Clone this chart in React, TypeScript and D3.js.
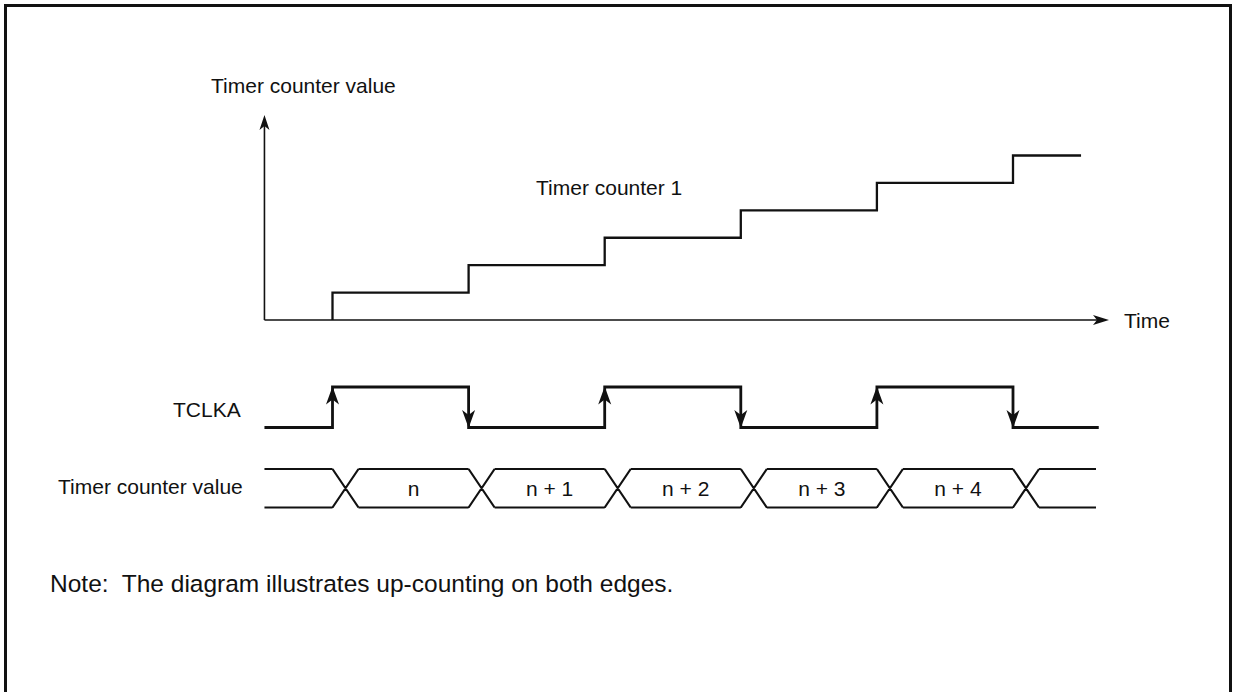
import React from "react";
import * as d3 from "d3";

// ---- data ----
const edgeTimes = [0, 1, 2, 3, 4, 5];
const counterValues = [1, 2, 3, 4, 5, 6];
const clockEdges = ["rise", "fall", "rise", "fall", "rise", "fall"];
const busLabels = ["n", "n + 1", "n + 2", "n + 3", "n + 4"];
const yAxisTitle = "Timer counter value";
const xAxisTitle = "Time";
const seriesLabel = "Timer counter 1";
const clockLabel = "TCLKA";
const busTitle = "Timer counter value";
const noteText = "Note:  The diagram illustrates up-counting on both edges.";

const W = 1233;
const H = 692;
const FONT = "'Liberation Sans', Arial, Helvetica, sans-serif";
const INK = "#111";

export default function App() {
  const x = d3.scaleLinear().domain([0, 5]).range([332.5, 1013]);
  const yC = d3.scaleLinear().domain([0, 6]).range([320, 155.5]);
  const tStart = -0.5;
  const tStepEnd = 5.5;
  const tClockEnd = 5.63;
  const tBusEnd = 5.61;
  const clkHigh = 387;
  const clkLow = 427.5;
  const busTop = 469;
  const busBot = 507.5;
  const crossW = 26;

  // step line
  const stepPts: [number, number][] = [[x(edgeTimes[0]), yC(0)]];
  edgeTimes.forEach((t, i) => {
    stepPts.push([x(t), yC(counterValues[i])]);
    const tn = i + 1 < edgeTimes.length ? edgeTimes[i + 1] : tStepEnd;
    stepPts.push([x(tn), yC(counterValues[i])]);
  });
  const line = d3.line();

  // clock
  const clkPts: [number, number][] = [[x(tStart), clkLow]];
  let level = clkLow;
  edgeTimes.forEach((t, i) => {
    clkPts.push([x(t), level]);
    level = clockEdges[i] === "rise" ? clkHigh : clkLow;
    clkPts.push([x(t), level]);
  });
  clkPts.push([x(tClockEnd), level]);

  const arrowHead = (
    tx: number,
    ty: number,
    dir: "up" | "down" | "right",
    len = 13,
    hw = 5,
    notch = 4
  ) => {
    if (dir === "up")
      return `M${tx},${ty} L${tx - hw},${ty + len} L${tx},${ty + len - notch} L${tx + hw},${ty + len} Z`;
    if (dir === "down")
      return `M${tx},${ty} L${tx - hw},${ty - len} L${tx},${ty - len + notch} L${tx + hw},${ty - len} Z`;
    return `M${tx},${ty} L${tx - len},${ty - hw} L${tx - len + notch},${ty} L${tx - len},${ty + hw} Z`;
  };

  // bus
  const busPathParts: string[] = [];
  const xs = edgeTimes.map((t) => x(t));
  const segStarts = [x(tStart), ...xs.map((v) => v + crossW)];
  const segEnds = [...xs, x(tBusEnd)];
  segStarts.forEach((s, i) => {
    busPathParts.push(`M${s},${busTop} L${segEnds[i]},${busTop}`);
    busPathParts.push(`M${s},${busBot} L${segEnds[i]},${busBot}`);
  });
  xs.forEach((v) => {
    busPathParts.push(`M${v},${busTop} L${v + crossW},${busBot}`);
    busPathParts.push(`M${v},${busBot} L${v + crossW},${busTop}`);
  });

  const axisX0 = x(tStart);
  const axisY0 = yC(0);

  const textStyle = { fontFamily: FONT, fontSize: 21, fill: INK } as const;

  return (
    <svg width={W} height={H} style={{ position: "absolute", left: 0, top: 0, background: "#fff" }}>
      <rect x={5.5} y={5.5} width={1225} height={700} fill="#fff" stroke={INK} strokeWidth={3} />

      {/* axes */}
      <line x1={axisX0} y1={axisY0} x2={axisX0} y2={120} stroke={INK} strokeWidth={1.6} />
      <path d={arrowHead(axisX0, 115, "up", 15, 5)} fill={INK} />
      <line x1={axisX0} y1={axisY0} x2={1104} y2={axisY0} stroke={INK} strokeWidth={1.6} />
      <path d={arrowHead(1109, axisY0, "right", 16, 5)} fill={INK} />
      <text x={211} y={93} {...textStyle}>{yAxisTitle}</text>
      <text x={1124} y={327.5} {...textStyle}>{xAxisTitle}</text>

      {/* counter steps */}
      <path d={line(stepPts) || ""} fill="none" stroke={INK} strokeWidth={2.3} />
      <text x={536} y={195} {...textStyle}>{seriesLabel}</text>

      {/* clock */}
      <text x={173} y={417} {...textStyle}>{clockLabel}</text>
      <path d={line(clkPts) || ""} fill="none" stroke={INK} strokeWidth={2.8} />
      {edgeTimes.map((t, i) =>
        clockEdges[i] === "rise" ? (
          <path key={i} d={arrowHead(x(t), clkHigh - 0.5, "up", 18, 6.5, 5)} fill={INK} />
        ) : (
          <path key={i} d={arrowHead(x(t), clkLow + 0.5, "down", 18, 6.5, 5)} fill={INK} />
        )
      )}

      {/* bus */}
      <text x={58} y={494} {...textStyle}>{busTitle}</text>
      <path d={busPathParts.join(" ")} fill="none" stroke={INK} strokeWidth={2.2} />
      {busLabels.map((lab, i) => (
        <text
          key={i}
          x={(xs[i] + crossW + xs[i + 1]) / 2}
          y={496}
          textAnchor="middle"
          {...textStyle}
        >
          {lab}
        </text>
      ))}

      <text x={50} y={592} {...textStyle} fontSize={24.5} style={{ whiteSpace: "pre" }}>
        {noteText}
      </text>
    </svg>
  );
}
